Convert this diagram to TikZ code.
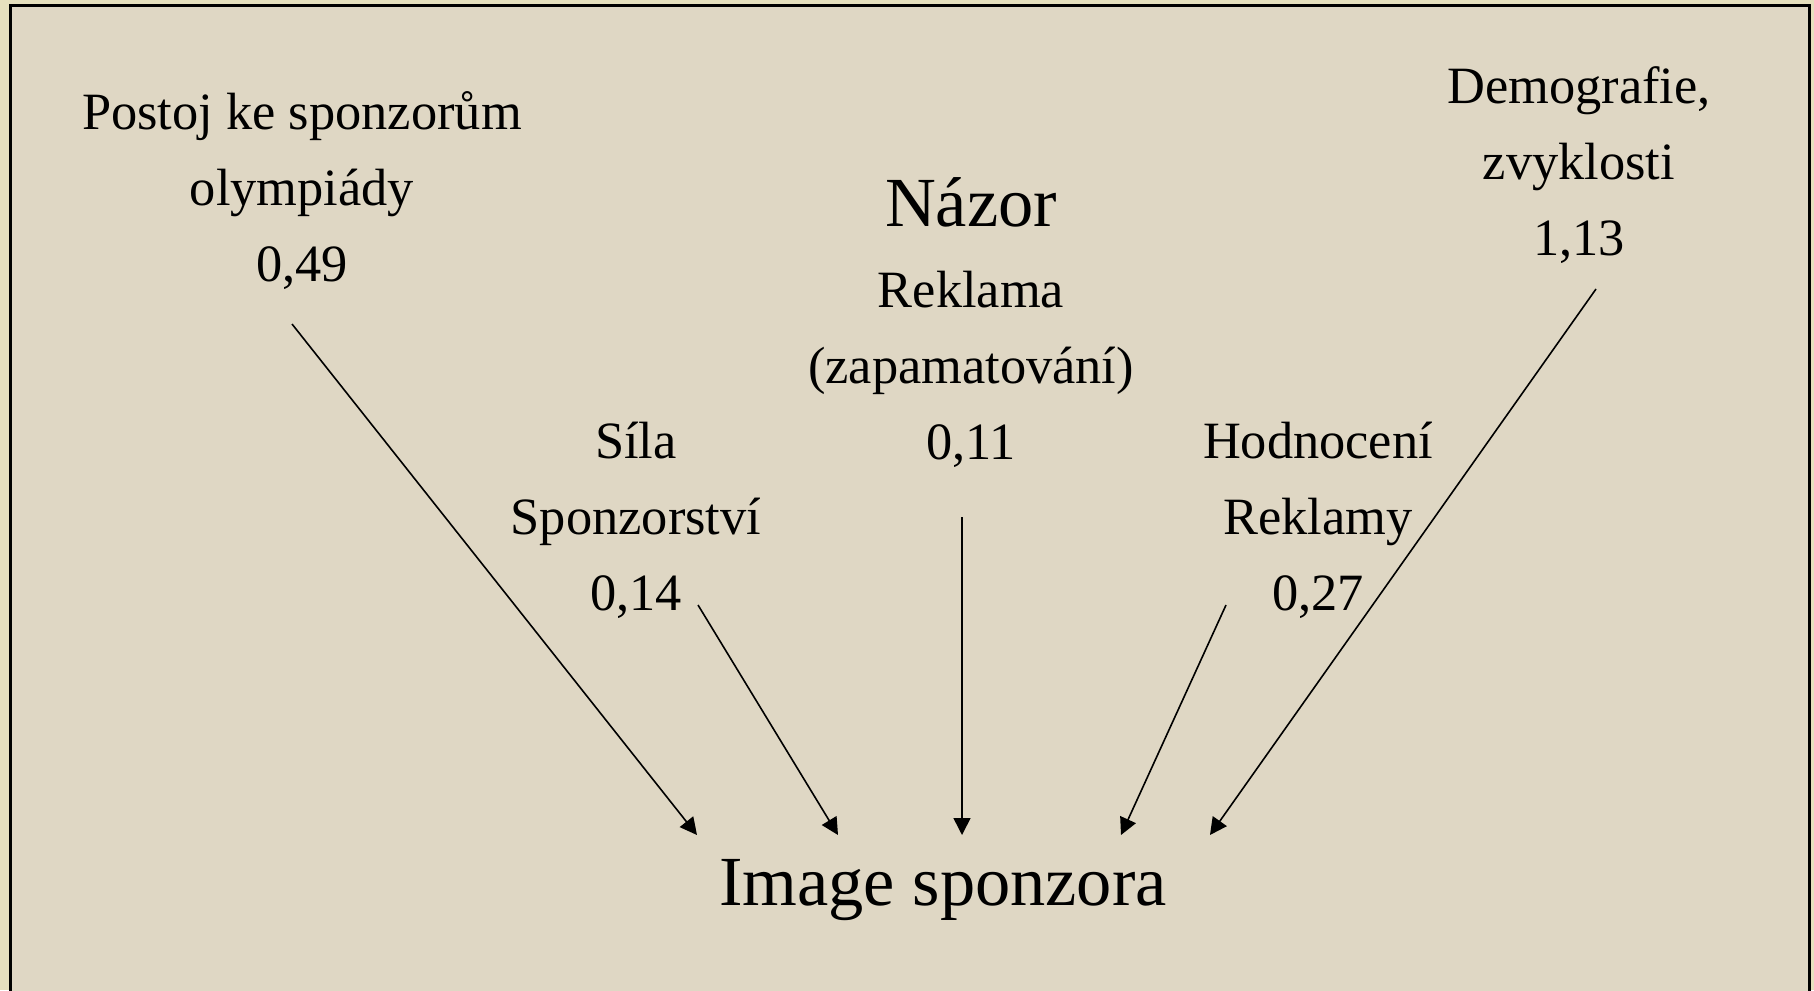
\documentclass[tikz,border=0pt]{standalone}
\usepackage{fontspec}
\setmainfont{Liberation Serif}
\usepackage{tikz}
\usetikzlibrary{arrows.meta,positioning}

\definecolor{paper}{RGB}{230,224,190}
\definecolor{slide}{RGB}{223,215,196}

\tikzset{
  factor/.style = {align=center, anchor=base, inner sep=0pt,
                   font=\fontsize{26.2}{38}\selectfont},
  big/.style = {anchor=base, inner sep=0pt, font=\fontsize{35.2}{42}\selectfont},
  effect/.style = {-{Triangle[length=8.5pt,width=8.5pt]}, line width=0.8pt},
}

\begin{document}
\begin{tikzpicture}[x=0.5pt, y=-0.5pt]
        \useasboundingbox (0,0) rectangle (1814,990);
        \fill[paper] (0,0) rectangle (1814,990);
        \draw[fill=slide, line width=1.5pt] (10,6) rectangle (1809,1010);

        % factors (base = last line)
        \node[factor] (postoj) at (302,281) {Postoj ke sponzorům\\olympiády\\0,49};
        \node[factor] (demo) at (1579,255) {Demografie,\\zvyklosti\\1,13};
        \node[big] (nazor) at (971,226) {Názor};
        \node[factor] (reklama) at (971,459) {Reklama\\(zapamatování)\\0,11};
        \node[factor] (sila) at (636,610) {Síla\\Sponzorství\\0,14};
        \node[factor] (hodn) at (1318,610) {Hodnocení\\Reklamy\\0,27};
        \node[big] (image) at (943,905) {Image sponzora};

        % arrow ends
        \coordinate (postoj-out) at (292,324);
        \coordinate (sila-out) at (698,605);
        \coordinate (reklama-out) at (962,517);
        \coordinate (hodn-out) at (1226,605);
        \coordinate (demo-out) at (1596,289);
        \coordinate (image-in1) at (697,835);
        \coordinate (image-in2) at (838,835);
        \coordinate (image-in3) at (962,835);
        \coordinate (image-in4) at (1121,835);
        \coordinate (image-in5) at (1210,835);

        \draw[effect] (postoj-out) -- (image-in1);
        \draw[effect] (sila-out) -- (image-in2);
        \draw[effect] (reklama-out) -- (image-in3);
        \draw[effect] (hodn-out) -- (image-in4);
        \draw[effect] (demo-out) -- (image-in5);
      \end{tikzpicture}
\end{document}
